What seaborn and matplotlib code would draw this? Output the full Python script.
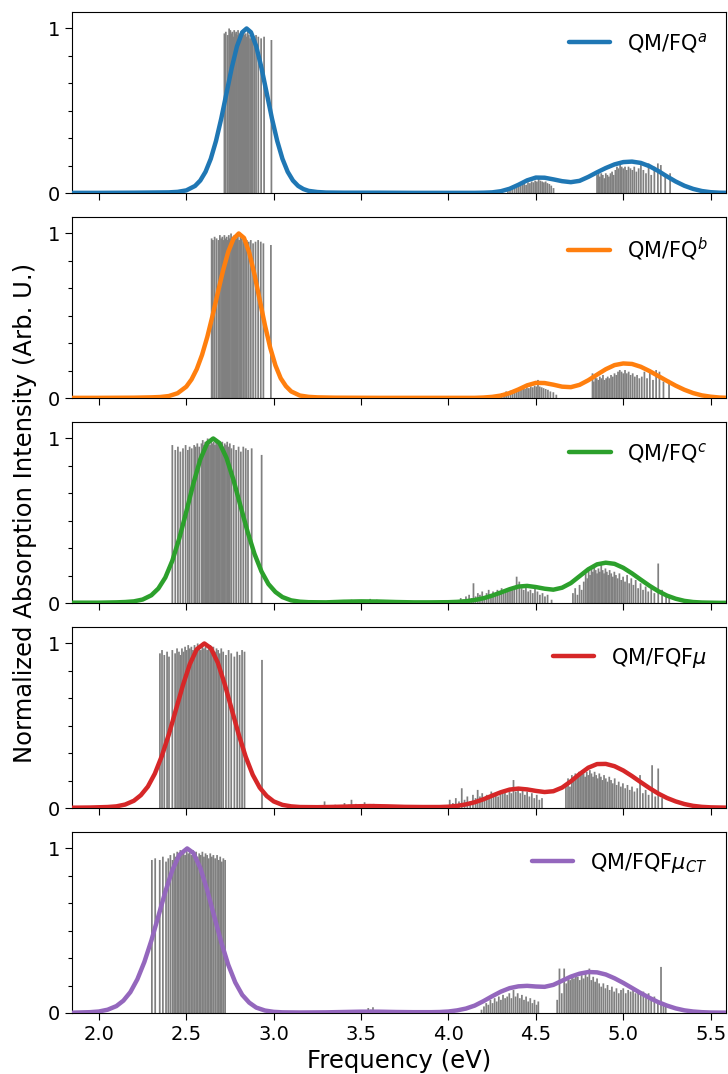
import matplotlib
matplotlib.use("Agg")
import matplotlib.pyplot as plt
import pandas as pd
import seaborn as sns
from matplotlib.ticker import MultipleLocator, AutoMinorLocator

# ---------------------------------------------------------------
# stick spectra: (energy eV, normalized intensity)
# ---------------------------------------------------------------
sticks_fq_a = [
    (2.718, .97), (2.726, .98), (2.737, .96), (2.745, 1.00), (2.752, .99), (2.758, .97),
    (2.763, .98), (2.769, .95), (2.774, .99), (2.779, .97), (2.785, .98), (2.790, .96),
    (2.796, .99), (2.801, .97), (2.806, .95), (2.812, .98), (2.817, .96), (2.823, .97),
    (2.829, .99), (2.834, .96), (2.840, .97), (2.846, .95), (2.852, .98), (2.858, .96),
    (2.865, .94), (2.872, .97), (2.880, .96), (2.889, .95), (2.899, .96), (2.912, .95),
    (2.928, .94), (2.945, .95), (2.987, .93),
    (4.340, .02), (4.352, .03), (4.365, .025), (4.378, .04), (4.390, .035), (4.401, .05),
    (4.412, .045), (4.423, .055), (4.433, .06), (4.444, .05), (4.455, .065), (4.466, .06),
    (4.476, .07), (4.486, .065), (4.496, .075), (4.506, .07), (4.516, .09), (4.526, .075),
    (4.536, .07), (4.546, .065), (4.556, .07), (4.566, .06), (4.577, .055), (4.588, .045),
    (4.601, .03),
    (4.850, .11), (4.858, .13), (4.866, .10), (4.874, .12), (4.883, .11), (4.892, .09),
    (4.900, .12), (4.909, .11), (4.918, .10), (4.927, .12), (4.936, .13), (4.945, .11),
    (4.955, .14), (4.964, .16), (4.973, .15), (4.982, .17), (4.991, .16), (5.000, .15),
    (5.010, .16), (5.020, .14), (5.030, .16), (5.041, .15), (5.052, .14), (5.063, .16),
    (5.075, .13), (5.088, .15), (5.101, .17), (5.115, .14), (5.130, .12), (5.145, .18),
    (5.160, .11), (5.178, .16), (5.198, .18), (5.215, .17), (5.240, .10), (5.268, .12),
]

sticks_fq_b = [
    (2.645, .97), (2.652, .96), (2.662, .98), (2.673, .97), (2.684, .96), (2.692, .99),
    (2.699, .97), (2.706, .98), (2.712, .96), (2.718, .99), (2.724, .97), (2.731, .98),
    (2.737, .96), (2.743, .99), (2.749, .97), (2.756, 1.00), (2.762, .98), (2.768, .97),
    (2.775, .99), (2.781, .98), (2.788, .97), (2.795, .99), (2.802, .96), (2.810, .98),
    (2.818, .97), (2.827, .95), (2.836, .97), (2.846, .96), (2.857, .95), (2.869, .96),
    (2.882, .94), (2.896, .95), (2.911, .96), (2.926, .95), (2.941, .94), (2.984, .93),
    (4.294, .02), (4.305, .03), (4.318, .025), (4.330, .04), (4.342, .035), (4.355, .045),
    (4.367, .04), (4.379, .05), (4.391, .045), (4.403, .055), (4.415, .05), (4.427, .06),
    (4.438, .055), (4.449, .065), (4.460, .06), (4.471, .07), (4.482, .065), (4.493, .075),
    (4.503, .07), (4.512, .11), (4.522, .07), (4.533, .065), (4.544, .06), (4.556, .055),
    (4.569, .05), (4.583, .04), (4.600, .035), (4.617, .02),
    (4.824, .15), (4.831, .10), (4.840, .14), (4.848, .12), (4.857, .11), (4.866, .13),
    (4.875, .12), (4.884, .14), (4.893, .11), (4.902, .12), (4.911, .13), (4.920, .12),
    (4.930, .14), (4.940, .13), (4.950, .15), (4.960, .14), (4.970, .16), (4.980, .17),
    (4.990, .16), (5.000, .15), (5.010, .17), (5.020, .15), (5.031, .16), (5.042, .14),
    (5.054, .15), (5.066, .13), (5.079, .14), (5.092, .12), (5.106, .13), (5.121, .16),
    (5.136, .12), (5.152, .17), (5.170, .11), (5.188, .17), (5.207, .16), (5.230, .10),
    (5.262, .11),
]

sticks_fq_c = [
    (2.420, .96), (2.437, .93), (2.452, .95), (2.466, .92), (2.481, .94), (2.496, .96),
    (2.509, .93), (2.519, .95), (2.531, .94), (2.545, .96), (2.553, .95), (2.563, .97),
    (2.574, .95),
    (2.587, .97), (2.594, .99), (2.601, .96), (2.608, .98), (2.615, .97), (2.622, 1.00),
    (2.629, .98), (2.636, .96), (2.643, .99), (2.650, .97), (2.657, .98), (2.664, .96),
    (2.671, .99), (2.678, .97), (2.685, .98), (2.692, .96), (2.699, .97), (2.706, .98),
    (2.713, .95), (2.720, .97), (2.727, .96), (2.734, .98), (2.741, .95), (2.749, .97),
    (2.758, .94), (2.771, .96), (2.785, .93), (2.799, .95), (2.812, .92), (2.826, .95),
    (2.840, .94), (2.853, .93), (2.874, .94), (2.931, .90),
    (3.312, .015), (3.335, .008), (3.381, .01), (3.402, .012), (3.418, .01), (3.445, .02),
    (3.470, .012), (3.488, .018), (3.530, .01), (3.552, .025), (3.575, .015), (3.590, .02),
    (4.070, .03), (4.085, .02), (4.100, .04), (4.118, .05), (4.132, .03), (4.143, .12),
    (4.155, .04), (4.168, .06), (4.180, .05), (4.193, .07), (4.205, .04), (4.218, .06),
    (4.230, .08), (4.243, .05), (4.255, .07), (4.268, .06), (4.280, .08), (4.292, .07),
    (4.304, .09), (4.316, .06), (4.328, .08), (4.340, .07), (4.352, .09), (4.364, .08),
    (4.376, .10), (4.390, .16), (4.405, .13), (4.418, .09), (4.430, .08), (4.443, .10),
    (4.456, .07), (4.469, .08), (4.482, .06), (4.495, .09), (4.509, .07), (4.523, .05),
    (4.538, .06), (4.552, .04), (4.567, .05), (4.590, .02),
    (4.712, .06), (4.725, .09), (4.738, .05), (4.750, .11), (4.762, .08), (4.774, .13),
    (4.785, .18), (4.794, .15), (4.802, .20), (4.810, .17), (4.818, .21), (4.826, .19),
    (4.834, .22), (4.842, .20), (4.850, .18), (4.858, .21), (4.866, .19), (4.874, .23),
    (4.882, .20), (4.890, .18), (4.898, .21), (4.906, .19), (4.914, .17), (4.922, .20),
    (4.931, .18), (4.940, .16), (4.949, .19), (4.958, .17), (4.968, .15), (4.978, .18),
    (4.988, .14), (4.999, .16), (5.010, .13), (5.022, .17), (5.034, .12), (5.046, .15),
    (5.058, .11), (5.071, .14), (5.085, .09), (5.099, .12), (5.113, .08), (5.128, .10),
    (5.143, .07), (5.160, .09), (5.178, .06), (5.200, .24), (5.222, .08), (5.245, .05),
    (5.263, .04),
]

sticks_fqfmu = [
    (2.349, .94), (2.361, .96), (2.374, .93), (2.390, .95), (2.401, .92), (2.420, .96),
    (2.436, .94), (2.447, .97), (2.458, .95), (2.467, .93),
    (2.475, .97), (2.484, .95), (2.493, .98), (2.502, .96), (2.511, .99), (2.520, .97),
    (2.529, .98), (2.538, .96), (2.547, .99), (2.556, .97), (2.565, 1.00), (2.574, .98),
    (2.583, .96), (2.592, .99), (2.601, .97), (2.610, .98), (2.619, .96), (2.628, .97),
    (2.637, .99), (2.646, .96), (2.655, .98), (2.664, .95), (2.673, .97), (2.682, .96),
    (2.691, .94), (2.700, .97),
    (2.711, .95), (2.727, .93), (2.742, .96), (2.757, .94), (2.775, .92), (2.791, .95),
    (2.805, .93), (2.819, .96), (2.833, .95), (2.933, .90),
    (3.291, .04), (3.320, .01), (3.352, .02), (3.378, .015), (3.405, .03), (3.430, .02),
    (3.445, .05), (3.470, .025), (3.498, .02), (3.520, .035), (3.545, .015), (3.572, .025),
    (3.600, .02), (3.640, .01), (3.705, .015),
    (4.007, .05), (4.025, .03), (4.042, .06), (4.060, .04), (4.076, .12), (4.092, .05),
    (4.108, .07), (4.124, .04), (4.140, .08), (4.155, .06), (4.167, .11), (4.180, .07),
    (4.193, .09), (4.206, .06), (4.219, .08), (4.232, .07), (4.245, .10), (4.258, .08),
    (4.271, .09), (4.284, .07), (4.297, .10), (4.310, .09), (4.323, .11), (4.336, .08),
    (4.349, .10), (4.360, .09), (4.372, .17), (4.385, .10), (4.398, .12), (4.411, .09),
    (4.424, .11), (4.437, .08), (4.450, .10), (4.463, .07), (4.477, .09), (4.491, .06),
    (4.505, .08), (4.520, .05), (4.535, .06),
    (4.672, .15), (4.684, .18), (4.695, .13), (4.706, .20), (4.716, .17), (4.726, .21),
    (4.736, .19), (4.746, .22), (4.755, .20), (4.764, .23), (4.773, .21), (4.782, .19),
    (4.791, .22), (4.800, .20), (4.809, .23), (4.818, .21), (4.827, .19), (4.836, .22),
    (4.845, .20), (4.854, .18), (4.863, .21), (4.872, .19), (4.881, .17), (4.890, .20),
    (4.900, .18), (4.910, .16), (4.920, .19), (4.930, .17), (4.940, .15), (4.951, .18),
    (4.962, .14), (4.974, .16), (4.986, .13), (4.998, .15), (5.011, .12), (5.024, .14),
    (5.037, .11), (5.050, .13), (5.064, .10), (5.080, .12), (5.096, .20), (5.112, .09),
    (5.128, .11), (5.145, .08), (5.165, .26), (5.183, .07), (5.200, .24), (5.222, .06),
]

sticks_fqfmu_ct = [
    (2.303, .93), (2.322, .94), (2.348, .93), (2.366, .95), (2.384, .92), (2.397, .94),
    (2.409, .96), (2.421, .93),
    (2.430, .97), (2.439, .95), (2.448, .98), (2.457, .96), (2.466, .99), (2.475, .97),
    (2.484, .98), (2.493, .96), (2.502, 1.00), (2.511, .97), (2.520, .98), (2.529, .96),
    (2.538, .99), (2.547, .97), (2.556, .98), (2.565, .95), (2.574, .97), (2.583, .96),
    (2.592, .98), (2.601, .95), (2.610, .97), (2.619, .96), (2.628, .94), (2.637, .97),
    (2.646, .95), (2.655, .96), (2.665, .94),
    (2.676, .96), (2.686, .93), (2.694, .95), (2.703, .92), (2.712, .94), (2.722, .93),
    (3.541, .03), (3.556, .02), (3.568, .035),
    (4.189, .02), (4.203, .04), (4.216, .06), (4.228, .05), (4.240, .08), (4.252, .06),
    (4.264, .09), (4.276, .07), (4.288, .10), (4.300, .08), (4.312, .11), (4.324, .09),
    (4.336, .10), (4.348, .12), (4.360, .09), (4.372, .14), (4.384, .10), (4.396, .12),
    (4.408, .09), (4.420, .11), (4.432, .08), (4.444, .10), (4.456, .07), (4.468, .09),
    (4.480, .06), (4.492, .08), (4.504, .05), (4.514, .07),
    (4.622, .08), (4.635, .27), (4.648, .12), (4.662, .27), (4.674, .18), (4.685, .22),
    (4.696, .20), (4.707, .23), (4.718, .21), (4.729, .24), (4.740, .22), (4.751, .20),
    (4.762, .23), (4.773, .21), (4.784, .24), (4.795, .22), (4.806, .27), (4.817, .20),
    (4.828, .22), (4.839, .19), (4.850, .21), (4.862, .18), (4.874, .16), (4.886, .18),
    (4.898, .15), (4.910, .17), (4.922, .14), (4.935, .16), (4.948, .13), (4.961, .15),
    (4.974, .12), (4.987, .14), (5.000, .15), (5.014, .12), (5.028, .14), (5.042, .13),
    (5.056, .15), (5.070, .12), (5.085, .14), (5.100, .11), (5.115, .13), (5.130, .10),
    (5.145, .12), (5.160, .08), (5.178, .10), (5.198, .07), (5.216, .28), (5.230, .05),
    (5.243, .04),
]

# ---------------------------------------------------------------
# broadened spectra: (energy eV, normalized intensity)
# ---------------------------------------------------------------
curve_fq_a = [
    (1.85, .001), (2.00, .001), (2.20, .002), (2.30, .003), (2.40, .004), (2.45, .007),
    (2.50, .016), (2.55, .043), (2.58, .076), (2.61, .129), (2.64, .208), (2.67, .317),
    (2.70, .453), (2.73, .607), (2.76, .761), (2.79, .892), (2.82, .977), (2.845, 1.0),
    (2.87, .977), (2.90, .892), (2.93, .761), (2.96, .607), (2.99, .453), (3.02, .317),
    (3.05, .208), (3.08, .129), (3.11, .076), (3.14, .043), (3.17, .024), (3.20, .013),
    (3.25, .006), (3.30, .003), (3.40, .002), (3.60, .002), (3.80, .001), (4.00, .001),
    (4.10, .001), (4.15, .001), (4.20, .002), (4.25, .004), (4.30, .011), (4.35, .026),
    (4.40, .050), (4.45, .077), (4.50, .094), (4.55, .093), (4.60, .083), (4.65, .072),
    (4.70, .066), (4.75, .074), (4.80, .098), (4.85, .126), (4.90, .152), (4.95, .174),
    (5.00, .188), (5.05, .191), (5.10, .183), (5.15, .163), (5.20, .134), (5.25, .101),
    (5.30, .070), (5.35, .044), (5.40, .025), (5.45, .012), (5.50, .005), (5.55, .002),
    (5.60, .001),
]

curve_fq_b = [
    (1.85, .001), (2.00, .001), (2.20, .002), (2.30, .004), (2.35, .006), (2.40, .012),
    (2.45, .029), (2.50, .069), (2.53, .113), (2.56, .176), (2.59, .262), (2.62, .371),
    (2.65, .500), (2.68, .639), (2.71, .774), (2.74, .889), (2.77, .968), (2.80, 1.0),
    (2.83, .973), (2.86, .884), (2.89, .751), (2.92, .596), (2.95, .442), (2.98, .306),
    (3.01, .198), (3.04, .120), (3.07, .072), (3.10, .040), (3.15, .015), (3.20, .007),
    (3.25, .004), (3.35, .002), (3.60, .001), (3.90, .001), (4.10, .001), (4.15, .001),
    (4.20, .003), (4.25, .007), (4.30, .015), (4.35, .030), (4.40, .052), (4.45, .077),
    (4.50, .092), (4.55, .091), (4.60, .081), (4.65, .069), (4.70, .066), (4.75, .080),
    (4.80, .108), (4.85, .142), (4.90, .175), (4.95, .200), (5.00, .210), (5.05, .207),
    (5.10, .190), (5.15, .164), (5.20, .134), (5.25, .104), (5.30, .075), (5.35, .050),
    (5.40, .030), (5.45, .016), (5.50, .008), (5.55, .003), (5.60, .001),
]

curve_fq_c = [
    (1.85, .002), (2.00, .002), (2.10, .004), (2.15, .006), (2.20, .010), (2.25, .021),
    (2.30, .047), (2.34, .088), (2.38, .155), (2.42, .257), (2.46, .393), (2.50, .555),
    (2.54, .724), (2.58, .873), (2.62, .972), (2.654, 1.0), (2.69, .972), (2.73, .882),
    (2.77, .747), (2.81, .590), (2.85, .435), (2.89, .299), (2.93, .192), (2.97, .115),
    (3.01, .067), (3.05, .036), (3.10, .016), (3.15, .008), (3.20, .005), (3.30, .004),
    (3.40, .008), (3.50, .010), (3.60, .009), (3.70, .006), (3.80, .004), (3.90, .004),
    (4.00, .005), (4.05, .007), (4.10, .011), (4.15, .018), (4.20, .029), (4.25, .045),
    (4.30, .064), (4.35, .084), (4.40, .100), (4.45, .104), (4.50, .097), (4.55, .087),
    (4.60, .081), (4.65, .093), (4.70, .121), (4.75, .163), (4.80, .205), (4.85, .235),
    (4.90, .245), (4.95, .238), (5.00, .214), (5.05, .180), (5.10, .142), (5.15, .105),
    (5.20, .072), (5.25, .045), (5.30, .026), (5.35, .013), (5.40, .006), (5.45, .003),
    (5.55, .001), (5.60, .001),
]

curve_fqfmu = [
    (1.85, .002), (1.95, .003), (2.05, .006), (2.10, .010), (2.15, .021), (2.20, .044),
    (2.24, .078), (2.28, .130), (2.32, .209), (2.36, .316), (2.40, .447), (2.44, .595),
    (2.48, .744), (2.52, .874), (2.56, .965), (2.603, 1.0), (2.64, .972), (2.68, .884),
    (2.72, .752), (2.76, .599), (2.80, .446), (2.84, .311), (2.88, .202), (2.92, .124),
    (2.96, .073), (3.00, .040), (3.05, .019), (3.10, .010), (3.15, .006), (3.25, .005),
    (3.35, .007), (3.45, .010), (3.55, .012), (3.65, .010), (3.75, .007), (3.85, .006),
    (3.95, .006), (4.00, .008), (4.05, .013), (4.10, .022), (4.15, .035), (4.20, .053),
    (4.25, .075), (4.30, .096), (4.35, .112), (4.40, .118), (4.45, .113), (4.50, .104),
    (4.55, .097), (4.60, .102), (4.65, .124), (4.70, .162), (4.75, .206), (4.80, .245),
    (4.85, .267), (4.90, .268), (4.95, .254), (5.00, .228), (5.05, .194), (5.10, .157),
    (5.15, .121), (5.20, .088), (5.25, .061), (5.30, .040), (5.35, .024), (5.40, .013),
    (5.45, .007), (5.50, .004), (5.60, .002),
]

curve_fqfmu_ct = [
    (1.85, .002), (1.95, .005), (2.00, .009), (2.05, .020), (2.10, .042), (2.14, .075),
    (2.18, .127), (2.22, .205), (2.26, .310), (2.30, .440), (2.34, .588), (2.38, .737),
    (2.42, .868), (2.46, .961), (2.505, 1.0), (2.54, .973), (2.58, .882), (2.62, .745),
    (2.66, .586), (2.70, .430), (2.74, .293), (2.78, .186), (2.82, .110), (2.86, .063),
    (2.90, .033), (2.95, .015), (3.00, .007), (3.05, .004), (3.15, .003), (3.30, .004),
    (3.40, .006), (3.50, .008), (3.60, .008), (3.70, .006), (3.80, .005), (3.90, .005),
    (3.95, .006), (4.00, .009), (4.05, .016), (4.10, .027), (4.15, .045), (4.20, .072),
    (4.25, .102), (4.30, .130), (4.35, .151), (4.40, .162), (4.45, .165), (4.50, .161),
    (4.55, .159), (4.60, .171), (4.65, .196), (4.70, .221), (4.75, .239), (4.80, .249),
    (4.85, .247), (4.90, .234), (4.95, .211), (5.00, .183), (5.05, .152), (5.10, .121),
    (5.15, .092), (5.20, .066), (5.25, .045), (5.30, .028), (5.35, .016), (5.40, .009),
    (5.45, .005), (5.50, .003), (5.60, .002),
]

labels = [r"QM/FQ$^a$", r"QM/FQ$^b$", r"QM/FQ$^c$", r"QM/FQF$\mu$", r"QM/FQF$\mu_{CT}$"]
sticks_all = [sticks_fq_a, sticks_fq_b, sticks_fq_c, sticks_fqfmu, sticks_fqfmu_ct]
curves_all = [curve_fq_a, curve_fq_b, curve_fq_c, curve_fqfmu, curve_fqfmu_ct]

sns.set_style("ticks", rc={
    "axes.edgecolor": "black",
    "text.color": "black",
    "axes.labelcolor": "black",
    "xtick.color": "black",
    "ytick.color": "black",
})
plt.rcParams["font.family"] = ["DejaVu Sans"]

colors = sns.color_palette("tab10", 5)

fig, axes = plt.subplots(5, 1, figsize=(7.28, 10.74), dpi=100, sharex=True)
fig.subplots_adjust(left=0.0989, right=0.9973, top=0.9888, bottom=0.0568, hspace=0.1326)

for ax, label, sticks, curve, color in zip(axes, labels, sticks_all, curves_all, colors):
    st = pd.DataFrame(sticks, columns=["energy", "intensity"])
    cv = pd.DataFrame(curve, columns=["energy", "intensity"])

    ax.vlines(st["energy"], 0, st["intensity"], color="grey", lw=1.25,
              zorder=1, snap=False)
    sns.lineplot(data=cv, x="energy", y="intensity", color=color, lw=3.2,
                 label=label, ax=ax, zorder=3)

    ax.set_xlim(1.846, 5.588)
    ax.set_ylim(0, 1.1)
    ax.set_yticks([0, 1])
    ax.yaxis.set_minor_locator(AutoMinorLocator(6))
    ax.xaxis.set_major_locator(MultipleLocator(0.5))
    ax.tick_params(axis="both", which="major", labelsize=14, length=5, width=0.8)
    ax.tick_params(axis="y", which="minor", length=3, width=0.8)
    ax.set_xlabel("")
    ax.set_ylabel("")
    ax.legend(loc="upper right", frameon=False, fontsize=15)

axes[2].set_ylabel("Normalized Absorption Intensity (Arb. U.)", fontsize=17.5, labelpad=8)
axes[-1].set_xlabel("Frequency (eV)", fontsize=17.5)

fig.savefig("out.png", dpi=100)
